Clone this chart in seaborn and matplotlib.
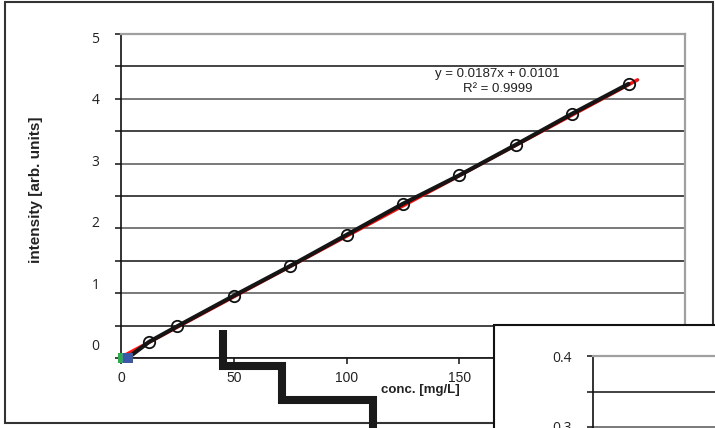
import numpy as np
import pandas as pd
import matplotlib
matplotlib.use("Agg")
import matplotlib.pyplot as plt
from matplotlib.lines import Line2D
from matplotlib.patches import Rectangle
from matplotlib.transforms import ScaledTranslation
from matplotlib.ticker import FixedLocator, MultipleLocator, FormatStrFormatter
import seaborn as sns

# Calibration standards
conc = [12.5, 25, 50, 75, 100, 125, 150, 175, 200, 225]
intensity = [0.25, 0.49, 0.96, 1.42, 1.90, 2.38, 2.82, 3.29, 3.77, 4.23]

# Blank measurements
blank_a_conc = [1.0]
blank_a_int = [0.0]
blank_b_conc = [3.0]
blank_b_int = [0.0]

# Linear fit reported on the chart
slope = 0.0187
intercept = 0.0101
r_squared = 0.9999
fit_conc = [0.0, 229.0]

x_ticks = [0, 50, 100, 150, 200, 250]
y_ticks = [0, 1, 2, 3, 4, 5]
inset_y_ticks = [0.0, 0.1, 0.2, 0.3, 0.4]
x_label = "conc. [mg/L]"
y_label = "intensity [arb. units]"

sns.set_style("white")
plt.rcParams["font.family"] = ["Liberation Sans", "DejaVu Sans"]

W, H = 715, 428
fig = plt.figure(figsize=(W / 100, H / 100), dpi=100)


def fx(px):
    return px / W


def fy(py):
    return 1 - py / H


ink = "#222222"
major_grid = "#555555"
minor_grid = "#111111"
border_gray = "#a0a0a0"

# ---- main calibration panel ----
ax = fig.add_axes([fx(121), fy(358), fx(685) - fx(121), fy(34) - fy(358)])
ax.set_facecolor("white")

fit_y = [slope * c + intercept for c in fit_conc]
sns.lineplot(x=fit_conc, y=fit_y, color="#ff1010", lw=2.5, ax=ax, zorder=3)

line_df = pd.DataFrame({"conc": blank_b_conc + conc,
                        "intensity": blank_b_int + intensity})
sns.lineplot(data=line_df, x="conc", y="intensity", color="#151515", lw=3.0,
             ax=ax, zorder=4, sort=False)
sns.lineplot(x=conc, y=intensity, ax=ax, linestyle="none", marker="o",
             markersize=8.2, markerfacecolor="none", markeredgecolor="#111111",
             markeredgewidth=1.3, color="#111111", zorder=5)

sns.lineplot(x=blank_a_conc, y=blank_a_int, ax=ax, linestyle="none",
             marker="s", markersize=7.6, color="#2bab4a",
             markerfacecolor="#2bab4a", markeredgecolor="#2bab4a",
             markeredgewidth=0, zorder=6, clip_on=False)
sns.lineplot(x=blank_b_conc, y=blank_b_int, ax=ax, linestyle="none",
             marker="s", markersize=7.6, color="#3a5aa8",
             markerfacecolor="#3a5aa8", markeredgecolor="#3a5aa8",
             markeredgewidth=0, zorder=7, clip_on=False)

ax.text(167, 4.27,
        f"y = {slope:.4f}x + {intercept:.4f}\nR² = {r_squared:.4f}",
        ha="center", va="center", fontsize=9.5, color=ink,
        linespacing=1.3, zorder=8)

ax.set_xlim(0, 250)
ax.set_ylim(0, 5)
ax.xaxis.set_major_locator(FixedLocator(x_ticks))
ax.yaxis.set_major_locator(FixedLocator(y_ticks))
ax.yaxis.set_minor_locator(MultipleLocator(0.5))
ax.set_axisbelow(True)
ax.grid(axis="y", which="major", color=major_grid, lw=1.1)
ax.grid(axis="y", which="minor", color=minor_grid, lw=1.1)
ax.grid(axis="x", visible=False)

ax.tick_params(axis="y", which="both", direction="out", length=4, width=1.1,
               color="#111111", left=True, pad=11.5, labelsize=10,
               labelcolor=ink)
ax.tick_params(axis="x", which="major", direction="out", length=4, width=1.1,
               color="#111111", bottom=True, pad=5.0, labelsize=10,
               labelcolor=ink)
# value labels sit on a slightly compressed scale relative to the grid
for tick in ax.yaxis.get_major_ticks():
    lab = tick.label1
    lab.set_family(["Open Sans", "DejaVu Sans"])
    v = tick.get_loc()
    shift_px = (v - 2.5) * 3.4 - 1.5
    lab.set_transform(lab.get_transform()
                      + ScaledTranslation(0, -shift_px / 100,
                                          fig.dpi_scale_trans))

for side in ("left", "bottom"):
    ax.spines[side].set_color("#111111")
    ax.spines[side].set_linewidth(1.2)
for side in ("top", "right"):
    ax.spines[side].set_color(border_gray)
    ax.spines[side].set_linewidth(1.6)

ax.set_xlabel(x_label, fontsize=9.5, fontweight="bold", color=ink)
ax.xaxis.set_label_coords(0.53, -0.099)
ax.xaxis.label.set_verticalalignment("center")
ax.set_ylabel(y_label, fontsize=11, fontweight="bold", color=ink)
ax.yaxis.label.set_rotation_mode("default")
ax.yaxis.label.set_verticalalignment("center")
ax.yaxis.label.set_horizontalalignment("center")
ax.yaxis.set_label_coords(-0.151, 0.519)
ax.set_zorder(1)

# ---- outer chart frame ----
fig.add_artist(Rectangle((fx(5), fy(423)), fx(713) - fx(5), fy(1.5) - fy(423),
                         transform=fig.transFigure, fill=False,
                         edgecolor="#333333", lw=1.5, zorder=0.5))

# ---- callout connector ----
step_px = [223, 223, 282, 282, 373, 373]
step_py = [330, 366, 366, 400, 400, 440]
fig.add_artist(Line2D([fx(p) for p in step_px], [fy(p) for p in step_py],
                      transform=fig.transFigure, color="#1a1a1a", lw=5.8,
                      solid_joinstyle="miter", solid_capstyle="butt",
                      zorder=3))

# ---- low-range inset panel ----
fig.add_artist(Rectangle((fx(494), -0.2), 0.6, fy(325) + 0.2,
                         transform=fig.transFigure, facecolor="white",
                         edgecolor="#111111", lw=1.5, zorder=4))

ax_in = fig.add_axes([fx(593), fy(640), 0.3, fy(356) - fy(640)])
ax_in.set_zorder(5)
ax_in.set_facecolor("white")
ax_in.set_ylim(0, 0.4)
ax_in.set_xlim(0, 25)
ax_in.yaxis.set_major_locator(FixedLocator(inset_y_ticks))
ax_in.yaxis.set_minor_locator(MultipleLocator(0.05))
ax_in.yaxis.set_major_formatter(FormatStrFormatter("%.1f"))
ax_in.set_axisbelow(True)
ax_in.grid(axis="y", which="major", color=major_grid, lw=1.1)
ax_in.grid(axis="y", which="minor", color=minor_grid, lw=1.1)
ax_in.grid(axis="x", visible=False)
ax_in.set_xticks([])
ax_in.tick_params(axis="y", which="both", direction="out", length=4,
                  width=1.1, color="#111111", left=True, pad=11.5,
                  labelsize=10, labelcolor=ink)
for lab in ax_in.get_yticklabels():
    lab.set_family(["Open Sans", "DejaVu Sans"])
ax_in.spines["left"].set_color("#111111")
ax_in.spines["left"].set_linewidth(1.2)
ax_in.spines["top"].set_color(border_gray)
ax_in.spines["top"].set_linewidth(1.6)
ax_in.spines["right"].set_visible(False)
ax_in.spines["bottom"].set_visible(False)

fig.savefig("out.png", dpi=100, facecolor="white")
